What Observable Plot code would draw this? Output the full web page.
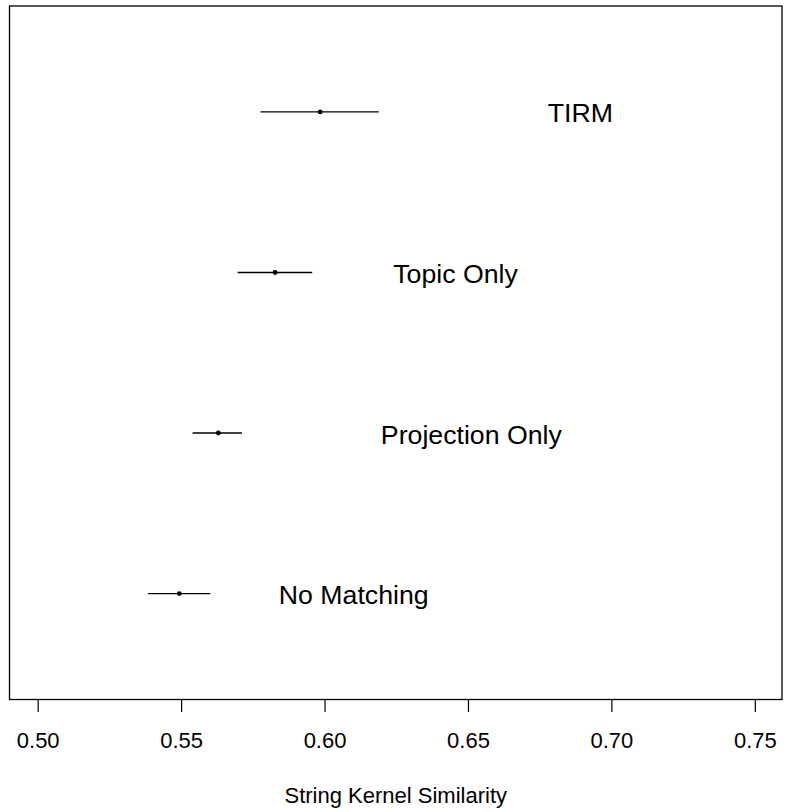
<!DOCTYPE html>
<html>
<head>
<meta charset="utf-8">
<script src="https://cdn.jsdelivr.net/npm/d3@7"></script>
<script src="https://cdn.jsdelivr.net/npm/@observablehq/plot@0.6"></script>
<style>
  html, body { margin: 0; padding: 0; background: white; }
</style>
</head>
<body>
<div id="chart"></div>
<script>
const methods   = ["TIRM", "Topic Only", "Projection Only", "No Matching"];
const positions = [4, 3, 2, 1];
const estimates = [0.5983, 0.5826, 0.5628, 0.5492];
const lower     = [0.5777, 0.5697, 0.5540, 0.5384];
const upper     = [0.6189, 0.5957, 0.5712, 0.5602];
const labelX    = [0.6890, 0.6455, 0.6510, 0.6100];
const xTicks    = [0.50, 0.55, 0.60, 0.65, 0.70, 0.75];
const xTitle    = "String Kernel Similarity";

const data = methods.map((m, i) => ({
  method: m, pos: positions[i], est: estimates[i],
  lo: lower[i], hi: upper[i], lx: labelX[i]
}));

const chart = Plot.plot({
  width: 785,
  height: 812,
  marginLeft: 9,
  marginRight: 3.5,
  marginTop: 5.5,
  marginBottom: 113,
  x: { domain: [0.49, 0.7593] },
  y: { domain: [0.34, 4.66], axis: null },
  style: { fontFamily: "'Liberation Sans', Arial, Helvetica, sans-serif", background: "white", color: "black", overflow: "visible" },
  marks: [
    Plot.frame({ stroke: "black", strokeWidth: 1.3 }),
    Plot.ruleY(data, { y: "pos", x1: "lo", x2: "hi", stroke: "black", strokeWidth: 1.3 }),
    Plot.dot(data, { x: "est", y: "pos", r: 2.4, fill: "black", stroke: null }),
    Plot.text(data, { x: "lx", y: "pos", text: "method", fontSize: 26.7, fill: "black", dy: 2 }),
    Plot.axisX({ ticks: xTicks, tickFormat: d3.format(".2f"), tickSize: 13, tickPadding: 20, fontSize: 22, label: null, stroke: "black", strokeWidth: 1.2 }),
    Plot.text([xTitle], { frameAnchor: "bottom", dy: 96, fontSize: 22, fill: "black", lineAnchor: "middle" })
  ]
});
document.getElementById("chart").appendChild(chart);
</script>
</body>
</html>
